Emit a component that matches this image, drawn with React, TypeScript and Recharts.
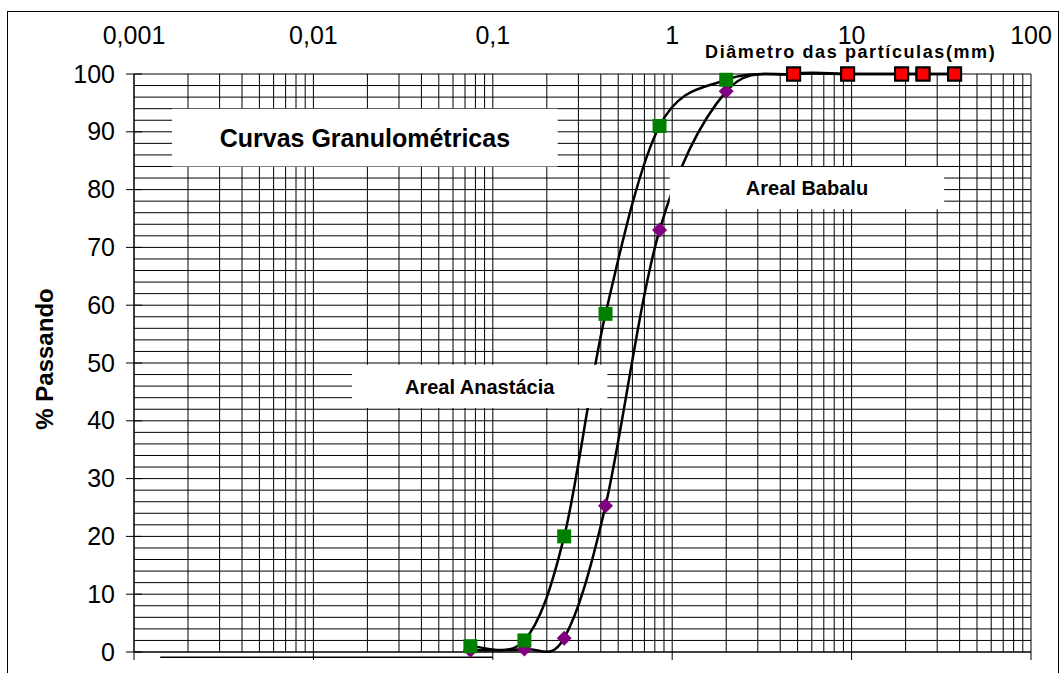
import {
  CartesianGrid,
  ComposedChart,
  Label,
  Line,
  ReferenceArea,
  ReferenceLine,
  XAxis,
  YAxis,
} from 'recharts'

// sieve openings (mm) and % passing
const sieves = [0.075, 0.15, 0.25, 0.425, 0.85, 2.0, 4.75, 9.5, 19, 25, 37.5]
const anastacia = [1, 2, 20, 58.5, 91, 99, 100, 100, 100, 100, 100]
const babalu = [0.3, 0.5, 2.4, 25.3, 73, 97, 100, 100, 100, 100, 100]

const xDecades = [0.001, 0.01, 0.1, 1, 10, 100]
const yLabels = [0, 10, 20, 30, 40, 50, 60, 70, 80, 90, 100]
const yGrid = [
  0, 2, 4, 6, 8, 10, 12, 14, 16, 18, 20, 22, 24, 26, 28, 30, 32, 34, 36, 38, 40, 42, 44, 46, 48, 50,
  52, 54, 56, 58, 60, 62, 64, 66, 68, 70, 72, 74, 76, 78, 80, 82, 84, 86, 88, 90, 92, 94, 96, 98, 100,
]
const xGrid = xDecades.flatMap((d, i) =>
  i === xDecades.length - 1 ? [d] : [1, 2, 3, 4, 5, 6, 7, 8, 9].map((m) => +(d * m).toPrecision(3)),
)

const FONT = '"Liberation Sans", Arial, sans-serif'

const rowsA = sieves.map((x, i) => ({ x, y: anastacia[i] }))
const rowsB = sieves.map((x, i) => ({ x, y: babalu[i] }))

// Excel-like smoothed line (Catmull-Rom through the points)
function smooth(context: any) {
  let pts: number[][] = []
  return {
    areaStart() {},
    areaEnd() {},
    lineStart() {
      pts = []
    },
    point(x: number, y: number) {
      pts.push([+x, +y])
    },
    lineEnd() {
      const n = pts.length
      if (!n) return
      context.moveTo(pts[0][0], pts[0][1])
      for (let i = 0; i < n - 1; i++) {
        const p0 = pts[Math.max(i - 1, 0)]
        const p1 = pts[i]
        const p2 = pts[i + 1]
        const p3 = pts[Math.min(i + 2, n - 1)]
        context.bezierCurveTo(
          p1[0] + (p2[0] - p0[0]) / 6,
          p1[1] + (p2[1] - p0[1]) / 6,
          p2[0] - (p3[0] - p1[0]) / 6,
          p2[1] - (p3[1] - p1[1]) / 6,
          p2[0],
          p2[1],
        )
      }
    },
  }
}

const RedSquare = (cx: number, cy: number, key: any) => (
  <rect key={key} x={cx - 6.5} y={cy - 6.5} width={13} height={13} fill="#ff0000" stroke="#000" strokeWidth={2} />
)

const GreenDot = (p: any) => {
  if (p.payload.x >= 4.75) return RedSquare(p.cx, p.cy, p.key ?? p.index)
  return <rect key={p.key ?? p.index} x={p.cx - 7} y={p.cy - 7} width={14} height={14} fill="#008000" />
}

const PurpleDot = (p: any) => {
  if (p.payload.x >= 4.75) return RedSquare(p.cx, p.cy, p.key ?? p.index)
  const { cx, cy } = p
  return (
    <polygon
      key={p.key ?? p.index}
      points={`${cx},${cy - 7.5} ${cx + 7.5},${cy} ${cx},${cy + 7.5} ${cx - 7.5},${cy}`}
      fill="#800080"
    />
  )
}

const YTick = (p: any) => {
  const v = p.payload.value
  if (!yLabels.includes(v)) return <g />
  return (
    <g>
      <line x1={p.x - 8} x2={p.x + 8} y1={p.y} y2={p.y} stroke="#000" />
      <text x={p.x - 19} y={p.y} dy={8.5} textAnchor="end" fontSize={25} fontFamily={FONT} fill="#000">
        {v}
      </text>
    </g>
  )
}

const XTickBottom = (p: any) => {
  if (!xDecades.includes(p.payload.value)) return <g />
  return <line x1={p.x} x2={p.x} y1={p.y} y2={p.y + 8} stroke="#000" />
}

const boxLabel = (text: string, size: number) => (props: any) => {
  const vb = props.viewBox
  return (
    <text
      x={vb.x + vb.width / 2}
      y={vb.y + vb.height / 2 + size * 0.36}
      textAnchor="middle"
      fontSize={size}
      fontWeight="bold"
      fontFamily={FONT}
      fill="#000"
    >
      {text}
    </text>
  )
}

export default function App() {
  return (
    <div style={{ position: 'fixed', left: 0, top: 0, width: 1059, height: 673, overflow: 'hidden', background: '#fff' }}>
      <div style={{ position: 'absolute', left: 7, top: 11, width: 1050, height: 700, border: '1px solid #000' }} />
      <div style={{ position: 'absolute', left: 0, top: 0 }}>
        <ComposedChart width={1059} height={673} margin={{ top: 34, right: 28, bottom: 11, left: 34 }}>
          <XAxis
            dataKey="x"
            type="number"
            scale="log"
            domain={[0.001, 100]}
            allowDataOverflow
            ticks={xGrid}
            interval={0}
            height={10}
            tickSize={0}
            tickMargin={0}
            tickLine={false}
            tick={XTickBottom}
            axisLine={{ stroke: '#000' }}
          />
          <XAxis
            xAxisId="top"
            orientation="top"
            dataKey="x"
            type="number"
            scale="log"
            domain={[0.001, 100]}
            allowDataOverflow
            ticks={xDecades}
            interval={0}
            height={40}
            tickSize={0}
            tickMargin={30}
            tickLine={false}
            axisLine={false}
            tickFormatter={(v: number) => String(v).replace('.', ',')}
            tick={{ fontSize: 25, fontFamily: FONT, fill: '#000' }}
          >
            <Label
              content={(props: any) => {
                const vb = props.viewBox
                return (
                  <text
                    x={vb.x + vb.width * 0.799}
                    y={vb.y + vb.height - 16}
                    textAnchor="middle"
                    fontSize={18}
                    fontWeight="bold"
                    letterSpacing={1.6}
                    fontFamily={FONT}
                    fill="#000"
                  >
                    Diâmetro das partículas(mm)
                  </text>
                )
              }}
            />
          </XAxis>
          <YAxis
            type="number"
            domain={[0, 100]}
            ticks={yGrid}
            interval={0}
            width={100}
            tickSize={0}
            tickMargin={0}
            tickLine={false}
            tick={YTick}
            axisLine={{ stroke: '#000' }}
          >
            <Label
              content={(props: any) => {
                const vb = props.viewBox
                return (
                  <text
                    x={0}
                    y={0}
                    transform={`translate(53, ${vb.y + vb.height / 2 - 4}) rotate(-90)`}
                    textAnchor="middle"
                    fontSize={24}
                    fontWeight="bold"
                    fontFamily={FONT}
                    fill="#000"
                  >
                    % Passando
                  </text>
                )
              }}
            />
          </YAxis>
          <CartesianGrid stroke="#000" strokeWidth={1} fill="#fff" />
          <ReferenceLine
            segment={[
              { x: 0.0014, y: -0.9 },
              { x: 0.1, y: -0.9 },
            ]}
            stroke="#000"
            strokeWidth={1.5}
            ifOverflow="visible"
          />
          <Line
            data={rowsB}
            dataKey="y"
            type={smooth as any}
            stroke="#000"
            strokeWidth={2.5}
            dot={PurpleDot}
            activeDot={false}
            isAnimationActive={false}
          />
          <Line
            data={rowsA}
            dataKey="y"
            type={smooth as any}
            stroke="#000"
            strokeWidth={2.5}
            dot={GreenDot}
            activeDot={false}
            isAnimationActive={false}
          />
          <ReferenceArea
            x1={0.00163}
            x2={0.23}
            y1={84}
            y2={94}
            fill="#fff"
            fillOpacity={1}
            stroke="none"
            zIndex={1000}
            label={boxLabel('Curvas Granulométricas', 25)}
          />
          <ReferenceArea
            x1={0.97}
            x2={32.8}
            y1={76.6}
            y2={83.9}
            fill="#fff"
            fillOpacity={1}
            stroke="none"
            zIndex={1000}
            label={boxLabel('Areal Babalu', 20)}
          />
          <ReferenceArea
            x1={0.0164}
            x2={0.435}
            y1={42.2}
            y2={49.7}
            fill="#fff"
            fillOpacity={1}
            stroke="none"
            zIndex={1000}
            label={boxLabel('Areal Anastácia', 20)}
          />
        </ComposedChart>
      </div>
    </div>
  )
}
